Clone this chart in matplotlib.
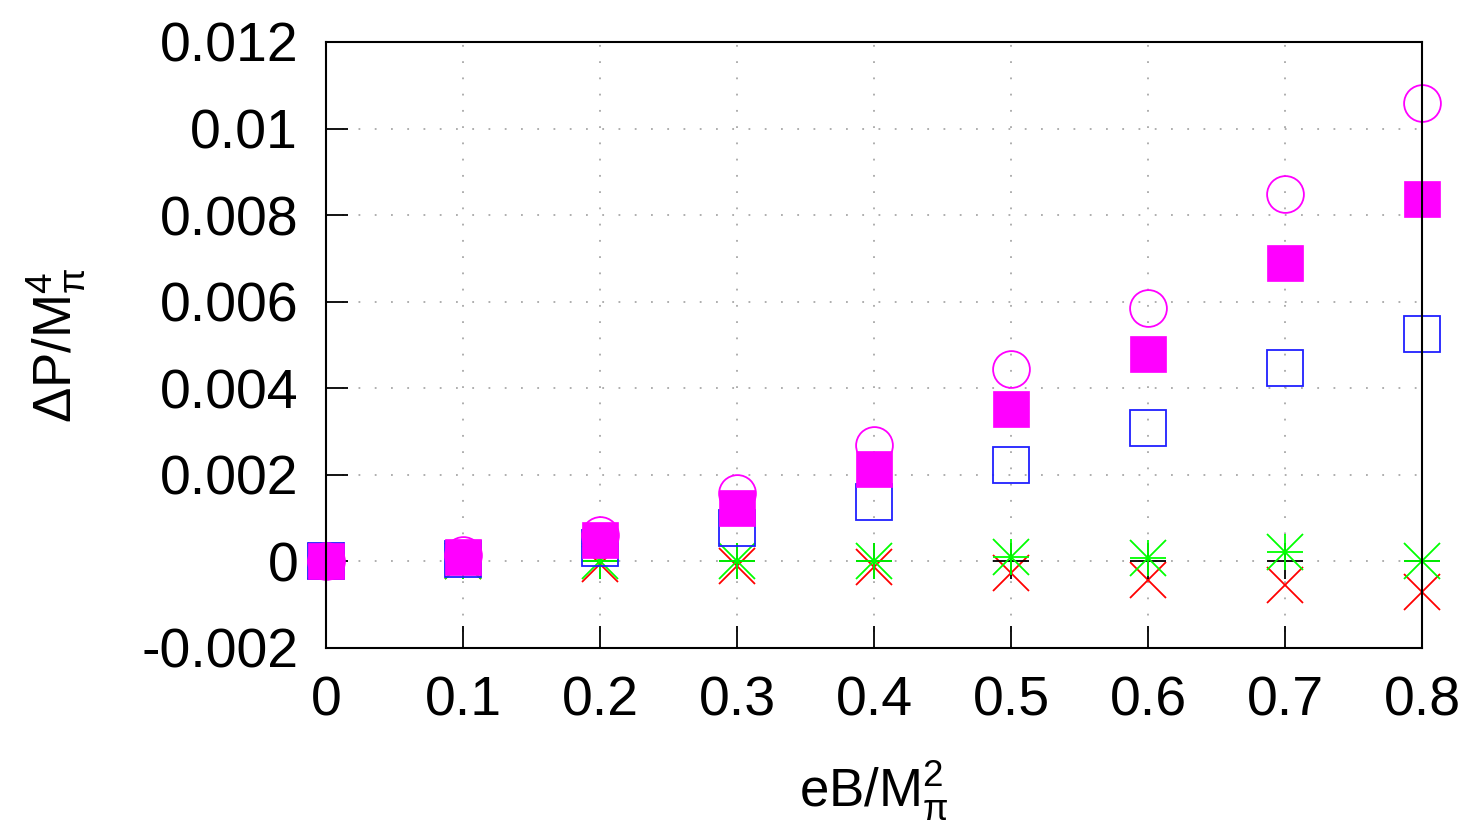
import matplotlib.pyplot as plt

plt.rcParams['font.family'] = ['Liberation Sans', 'DejaVu Sans']
plt.rcParams['mathtext.fontset'] = 'custom'
plt.rcParams['mathtext.rm'] = 'Liberation Sans'
plt.rcParams['mathtext.it'] = 'Liberation Sans'

eB = [0.0, 0.1, 0.2, 0.3, 0.4, 0.5, 0.6, 0.7, 0.8]

# pressure difference curves, one list per data set
dP_circle = [0.0, 0.00015, 0.00061, 0.00158, 0.00269, 0.00445, 0.00585, 0.00849, 0.01059]
dP_filled = [0.0, 0.00009, 0.00049, 0.00124, 0.00214, 0.00351, 0.00478, 0.00690, 0.00837]
dP_open = [0.0, 0.00005, 0.00031, 0.00078, 0.00137, 0.00223, 0.00307, 0.00447, 0.00525]
dP_star = [0.0, 0.0, 0.0, 0.00002, 0.00002, 0.00010, 0.00007, 0.00021, 0.0]
dP_cross = [0.0, 0.0, -0.00005, -0.00010, -0.00012, -0.00028, -0.00043, -0.00055, -0.00070]
dP_plus = [0.0, 0.0, 0.0, 0.0, 0.0, 0.0, 0.0, 0.0, 0.0]

xticks = [0, 0.1, 0.2, 0.3, 0.4, 0.5, 0.6, 0.7, 0.8]
xticklabels = ['0', '0.1', '0.2', '0.3', '0.4', '0.5', '0.6', '0.7', '0.8']
yticks = [-0.002, 0, 0.002, 0.004, 0.006, 0.008, 0.010, 0.012]
yticklabels = ['-0.002', '0', '0.002', '0.004', '0.006', '0.008', '0.01', '0.012']

fig = plt.figure(figsize=(14.73, 8.23), dpi=100)
ax = fig.add_axes([0.2213, 0.2127, 0.7441, 0.7363])

ms = 26.5
mw = 1.3
kw = dict(linestyle='none', clip_on=False)
ax.plot(eB, dP_cross, marker='x', ms=ms, mew=mw, color='#ff0000', **kw)
ax.plot(eB, dP_plus, marker='+', ms=ms, mew=mw, color='black', **kw)
ax.plot(eB, dP_star, marker='+', ms=ms, mew=mw, color='#00ff00', **kw)
ax.plot(eB, dP_star, marker='x', ms=ms, mew=mw, color='#00ff00', **kw)
ax.plot(eB, dP_open, marker='s', ms=ms, mew=mw, color='#2020ff', mfc='none', **kw)
ax.plot(eB, dP_circle, marker='o', ms=ms, mew=mw, color='#ff00ff', mfc='none', **kw)
ax.plot(eB, dP_filled, marker='s', ms=ms, mew=0.5, color='#ff00ff', **kw)

ax.set_xlim(0, 0.8)
ax.set_ylim(-0.002, 0.012)
ax.set_xticks(xticks)
ax.set_xticklabels(xticklabels)
ax.set_yticks(yticks)
ax.set_yticklabels(yticklabels)
ax.tick_params(direction='in', length=16, width=1.3, labelsize=40, pad=20,
               top=False, right=False)
ax.grid(True, color='#a8a8a8', linestyle=(0, (1, 8)), linewidth=1.3)
ax.set_axisbelow(True)
for s in ax.spines.values():
    s.set_linewidth(1.5)

ax.set_xlabel(r'eB/M$_\pi^2$', fontsize=38, labelpad=22)
ax.set_ylabel(r'$\Delta$P/M$_\pi^4$', fontsize=38, labelpad=38)

fig.savefig('out.png', dpi=100)
